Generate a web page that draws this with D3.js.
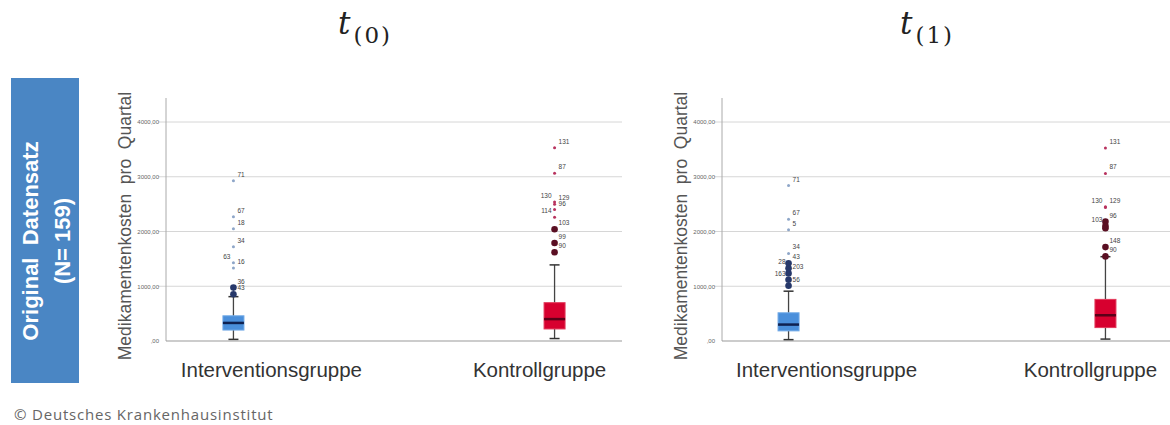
<!DOCTYPE html>
<html>
<head>
<meta charset="utf-8">
<title>Medikamentenkosten pro Quartal</title>
<script src="https://cdn.jsdelivr.net/npm/d3@7"></script>
<style>
body {
  margin: 0;
  background: #fff;
  font-family: "Liberation Sans", Arial, sans-serif;
}
svg { display: block; }
</style>
</head>
<body>
<div id="vis"></div>
<script>

// --- data ---
var categories = ["Interventionsgruppe", "Kontrollgruppe"];
var periods = ["0", "1"];
var yTicks = [0, 1000, 2000, 3000, 4000];
var yTickLabels = [",00", "1000,00", "2000,00", "3000,00", "4000,00"];

// box stats: [lowWhisker, q1, median, q3, highWhisker]
var boxT0Int = [30, 200, 330, 460, 810];
var boxT0Kon = [45, 220, 400, 700, 1390];
var boxT1Int = [25, 185, 300, 515, 910];
var boxT1Kon = [35, 245, 470, 760, 1540];

// outliers: [case id, value, label side]
var outT0Int = [[71, 2925, "r"], [67, 2270, "r"], [18, 2050, "r"], [34, 1720, "r"],
                [63, 1430, "l"], [16, 1335, "r"], [36, 975, "r"], [43, 855, "r"]];
var outT0Kon = [[131, 3530, "r"], [87, 3065, "r"], [130, 2540, "l"], [129, 2500, "r"],
                [96, 2400, "r"], [114, 2260, "l"], [103, 2040, "r"], [99, 1790, "r"], [90, 1620, "r"]];
var outT1Int = [[71, 2840, "r"], [67, 2225, "r"], [5, 2030, "r"], [34, 1600, "r"],
                [43, 1420, "r"], [28, 1330, "l"], [203, 1235, "r"], [163, 1120, "l"], [56, 1010, "r"]];
var outT1Kon = [[131, 3525, "r"], [87, 3060, "r"], [130, 2450, "l"], [129, 2440, "r"],
                [96, 2180, "r"], [103, 2100, "l"], [null, 2060, "r"], [148, 1715, "r"], [90, 1545, "r"]];

var boxes = { "0": [boxT0Int, boxT0Kon], "1": [boxT1Int, boxT1Kon] };
var outliers = { "0": [outT0Int, outT0Kon], "1": [outT1Int, outT1Kon] };

// --- styling ---
var fills   = ["#4a8fdb", "#d7002f"];
var strokes = ["#6fa8e6", "#e23a5b"];
var medians = ["#0f2150", "#5a0018"];
var starCol = ["#8ea6c8", "#b8325e"];
var circCol = ["#26386a", "#5a0f22"];

var W = 1170, H = 425;
var svg = d3.select("#vis").append("svg").attr("width", W).attr("height", H);

// side banner
svg.append("rect").attr("x", 11).attr("y", 78).attr("width", 68).attr("height", 305)
  .attr("fill", "#4a86c4");
var banner = svg.append("g").attr("transform", "translate(45,241) rotate(-90)");
banner.append("text").attr("y", -7).attr("text-anchor", "middle")
  .attr("fill", "#fff").attr("font-weight", "bold").attr("font-size", 22)
  .attr("xml:space", "preserve").text("Original  Datensatz");
banner.append("text").attr("y", 25).attr("text-anchor", "middle")
  .attr("fill", "#fff").attr("font-weight", "bold").attr("font-size", 22)
  .text("(N= 159)");

var panelX = { "0": [166, 622], "1": [722, 1172] };
var titleX = { "0": 338, "1": 900 };
var labelShift = [38, -15];

var y = d3.scaleLinear().domain([0, 4000]).range([341, 122]);

periods.forEach(function(p) {
  var x0 = panelX[p][0], x1 = panelX[p][1];
  var x = d3.scalePoint().domain(categories).range([x0, x1]).padding(0.21);
  var g = svg.append("g");

  // title t_(p)
  var t = g.append("text").attr("x", titleX[p]).attr("y", 34)
    .attr("font-family", "'DejaVu Serif', 'Liberation Serif', serif").attr("fill", "#222");
  t.append("tspan").attr("font-style", "italic").attr("font-size", 31).text("t");
  t.append("tspan").attr("font-size", 23).attr("letter-spacing", 2).attr("dx", 3).attr("dy", 9)
    .text("(" + p + ")");

  // grid
  g.selectAll("line.grid").data(yTicks.slice(1)).enter().append("line")
    .attr("x1", x0 - 8).attr("x2", x1)
    .attr("y1", function(d) { return y(d); }).attr("y2", function(d) { return y(d); })
    .attr("stroke", "#d6d6d6").attr("stroke-width", 1);

  // y axis
  var axis = d3.axisLeft(y).tickValues(yTicks).tickSize(0)
    .tickFormat(function(d, i) { return yTickLabels[i]; });
  var ag = g.append("g").attr("transform", "translate(" + x0 + ",0)").call(axis);
  ag.select(".domain").remove();
  ag.selectAll("text").attr("x", -7).attr("font-size", 6).attr("fill", "#666");
  g.append("line").attr("x1", x0).attr("x2", x0).attr("y1", 98).attr("y2", y(0))
    .attr("stroke", "#aaa");
  g.append("line").attr("x1", x0).attr("x2", x1).attr("y1", y(0)).attr("y2", y(0))
    .attr("stroke", "#999");

  // y title
  g.append("text").attr("transform", "translate(" + (x0 - 35) + ",226) rotate(-90)")
    .attr("text-anchor", "middle").attr("font-size", 17.5).attr("fill", "#555")
    .attr("xml:space", "preserve").text("Medikamentenkosten  pro  Quartal");

  categories.forEach(function(c, i) {
    var b = boxes[p][i], cx = x(c), bw = 21, cap = 5;
    // whiskers
    g.append("line").attr("x1", cx).attr("x2", cx).attr("y1", y(b[0])).attr("y2", y(b[1]))
      .attr("stroke", "#444").attr("stroke-width", 1.3);
    g.append("line").attr("x1", cx).attr("x2", cx).attr("y1", y(b[3])).attr("y2", y(b[4]))
      .attr("stroke", "#444").attr("stroke-width", 1.3);
    [b[0], b[4]].forEach(function(v) {
      g.append("line").attr("x1", cx - cap).attr("x2", cx + cap).attr("y1", y(v)).attr("y2", y(v))
        .attr("stroke", "#333").attr("stroke-width", 1.5);
    });
    // box
    g.append("rect").attr("x", cx - bw / 2).attr("y", y(b[3]))
      .attr("width", bw).attr("height", y(b[1]) - y(b[3]))
      .attr("fill", fills[i]).attr("stroke", strokes[i]).attr("stroke-width", 1);
    g.append("line").attr("x1", cx - bw / 2).attr("x2", cx + bw / 2)
      .attr("y1", y(b[2])).attr("y2", y(b[2]))
      .attr("stroke", medians[i]).attr("stroke-width", 2.5);

    // outliers: circle if within 3 IQR, star beyond
    var iqr = b[3] - b[1];
    outliers[p][i].forEach(function(o) {
      var extreme = o[1] > b[3] + 3 * iqr;
      if (extreme) {
        g.append("circle").attr("cx", cx).attr("cy", y(o[1])).attr("r", 1.5)
          .attr("fill", starCol[i]);
      } else {
        g.append("circle").attr("cx", cx).attr("cy", y(o[1])).attr("r", 3.3)
          .attr("fill", circCol[i]);
      }
      if (o[0] !== null) {
        g.append("text")
          .attr("x", o[2] === "r" ? cx + 4 : cx - 3)
          .attr("y", y(o[1]) - 4)
          .attr("text-anchor", o[2] === "r" ? "start" : "end")
          .attr("font-size", 6.5).attr("fill", "#444").text(o[0]);
      }
    });

    // category label
    g.append("text").attr("x", cx + labelShift[i]).attr("y", 377)
      .attr("text-anchor", "middle").attr("font-size", 20.5).attr("fill", "#333")
      .text(c);
  });
});

// footer
svg.append("text").attr("x", 14).attr("y", 420)
  .attr("font-family", "'Open Sans', Lato, sans-serif").attr("font-size", 15)
  .attr("letter-spacing", 0.8)
  .attr("fill", "#666").text("\u00a9 Deutsches Krankenhausinstitut");

</script>
</body>
</html>
